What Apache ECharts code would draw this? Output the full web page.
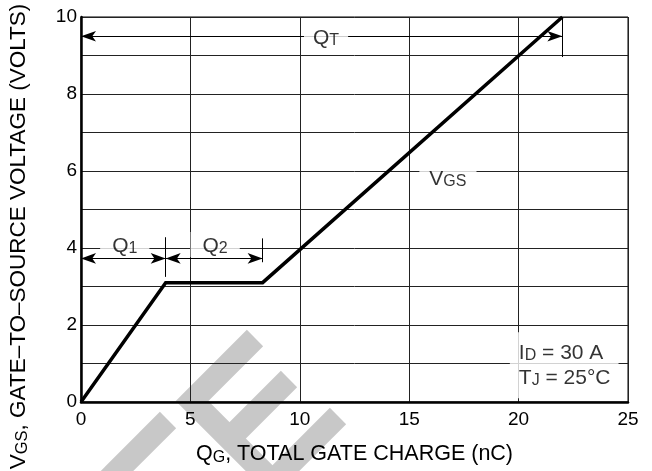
<!DOCTYPE html>
<html>
<head>
<meta charset="utf-8">
<script src="https://cdn.jsdelivr.net/npm/echarts@6.0.0/dist/echarts.min.js"></script>
<style>
html,body{margin:0;padding:0;background:#fff;}
#c{width:652px;height:471px;}
</style>
</head>
<body>
<div id="c"></div>
<script>
// ---- data ----
const qg = [0, 3.87, 8.3, 22];          // total gate charge (nC)
const vgs = [0, 3.1, 3.1, 10];           // gate-to-source voltage (V)
const xTickLabels = [0, 5, 10, 15, 20, 25];
const yTickLabels = [0, 2, 4, 6, 8, 10];

// annotation geometry in data units
const qtArrow = [[0, 9.5], [22, 9.5]];
const qtTick = [[22, 10], [22, 8.96]];
const q1Arrow = [[0, 3.73], [3.87, 3.73]];
const q2Arrow = [[3.87, 3.73], [8.3, 3.73]];
const q1Tick = [[3.87, 4.28], [3.87, 3.25]];
const q2Tick = [[8.3, 4.25], [8.3, 3.63]];
const labelPos = {
  qt: [11.2, 9.5],
  q1: [2.0, 4.09],
  q2: [6.13, 4.09],
  vgs: [16.77, 5.83],
  cond: [19.6, 1.81]
};

const FONT = 'Liberation Sans, Arial, Helvetica, sans-serif';
function makeRich(big, small) {
  return {
    m: {fontSize: big, fontFamily: FONT, color: '#000', lineHeight: big + 4, verticalAlign: 'bottom'},
    s: {fontSize: small, fontFamily: FONT, color: '#000', lineHeight: small - 3, verticalAlign: 'bottom'}
  };
}
const richLabel = makeRich(21, 16);
const richX = makeRich(21.5, 16);
const richY = makeRich(22.5, 16.5);

const chart = echarts.init(document.getElementById('c'), null, {renderer: 'canvas'});

function seg(a, b, sym) {
  return sym ? [{coord: a}, {coord: b}] : [{coord: a, symbol: 'none'}, {coord: b, symbol: 'none'}];
}

const labelData = [
  {value: labelPos.qt, label: {formatter: '{m|Q}{s|T}', padding: [0, 9, 0, 9]}},
  {value: labelPos.q1, label: {formatter: '{m|Q}{s|1}', padding: [0, 12, 0, 12]}},
  {value: labelPos.q2, label: {formatter: '{m|Q}{s|2}', padding: [0, 12, 0, 12]}},
  {value: labelPos.vgs, label: {formatter: '{m|V}{s|GS}', padding: [0, 10, 0, 10]}},
  {value: labelPos.cond, label: {
    formatter: '{m|I}{s|D}{m| = 30 A}\n{m|T}{s|J}{m| = 25°C}',
    align: 'left', verticalAlign: 'top', padding: [6, 8, 10, 9]
  }}
];

const wm = '#c8c8c8';
const wmLine = (pts) => ({
  type: 'polyline', z: -100, silent: true,
  shape: {points: pts},
  style: {stroke: wm, lineWidth: 23, fill: null, lineCap: 'butt', lineJoin: 'miter'}
});

chart.setOption({
  backgroundColor: '#fff',
  animation: false,
  grid: {left: 81, right: 24, top: 17, bottom: 69, show: true, borderColor: '#000', borderWidth: 1,
    backgroundColor: 'transparent', containLabel: false, outerBoundsMode: 'none'},
  xAxis: {
    type: 'value', min: 0, max: 25, interval: 5,
    name: '{m|Q}{s|G}{m|, TOTAL GATE CHARGE (nC)}',
    nameLocation: 'middle', nameGap: 38,
    nameTextStyle: {rich: richX},
    axisLine: {show: true, lineStyle: {color: '#000', width: 2.5}},
    axisTick: {show: false},
    axisLabel: {
      margin: 8, color: '#000', fontSize: 19, fontFamily: FONT,
      formatter: v => xTickLabels.includes(v) ? String(v) : ''
    },
    splitLine: {show: true, lineStyle: {color: '#222', width: 1}}
  },
  yAxis: {
    type: 'value', min: 0, max: 10, interval: 1,
    axisLine: {show: true, lineStyle: {color: '#000', width: 2.5}},
    axisTick: {show: false},
    axisLabel: {
      margin: 4, color: '#000', fontSize: 19, fontFamily: FONT,
      formatter: v => yTickLabels.includes(v) ? String(v) : ''
    },
    splitLine: {show: true, lineStyle: {color: '#222', width: 1}}
  },
  graphic: {
    elements: [
      wmLine([[255, 338], [192, 401], [300, 509]]),
      wmLine([[289, 379], [228, 440]]),
      wmLine([[338, 416], [271, 483]]),
      wmLine([[168, 420], [105, 483]]),
      {
        type: 'text', x: 17.5, y: 236.5, rotation: Math.PI / 2, silent: true, z: 10,
        style: {
          text: '{m|V}{s|GS}{m|, GATE–TO–SOURCE VOLTAGE (VOLTS)}',
          rich: richY, align: 'center', verticalAlign: 'middle'
        }
      }
    ]
  },
  series: [
    {
      type: 'line', data: qg.map((x, i) => [x, vgs[i]]),
      symbol: 'none', z: 5,
      lineStyle: {color: '#000', width: 3.5, join: 'miter'},
      silent: true
    },
    {
      type: 'scatter', data: [], silent: true, z: 4,
      markLine: {
        silent: true, animation: false,
        symbol: ['arrow', 'arrow'], symbolSize: [8, 15],
        label: {show: false},
        lineStyle: {color: '#000', width: 1, type: 'solid'},
        emphasis: {disabled: true},
        data: [
          seg(qtArrow[0], qtArrow[1], true),
          seg(q1Arrow[0], q1Arrow[1], true),
          seg(q2Arrow[0], q2Arrow[1], true),
          seg(qtTick[0], qtTick[1], false),
          seg(q1Tick[0], q1Tick[1], false),
          seg(q2Tick[0], q2Tick[1], false)
        ]
      }
    },
    {
      type: 'scatter', symbolSize: 0, z: 10, silent: true,
      data: labelData,
      label: {
        show: true, position: 'inside', backgroundColor: '#fff',
        rich: richLabel
      }
    }
  ]
});
</script>
</body>
</html>
